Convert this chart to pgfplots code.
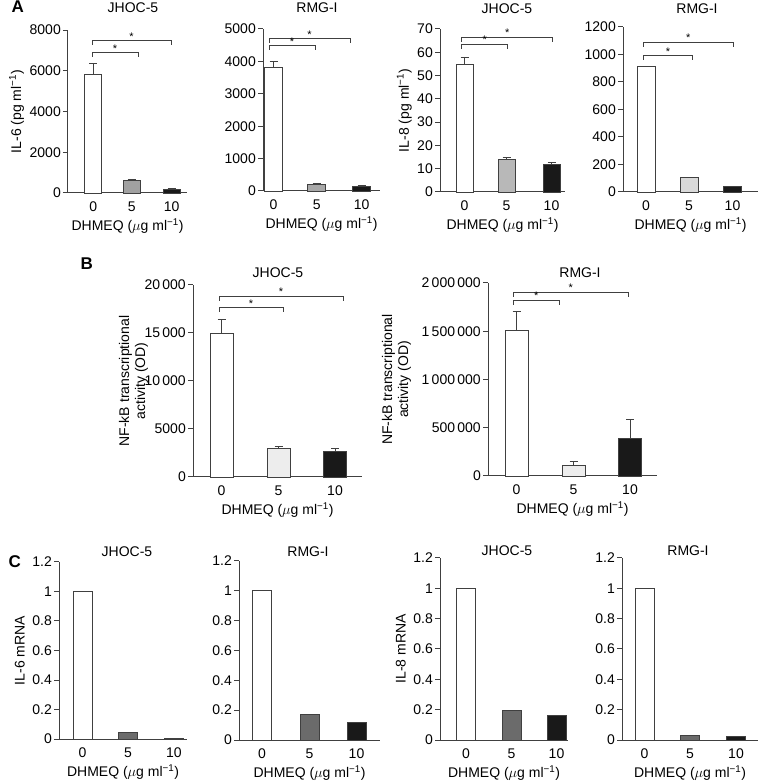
\documentclass[border=0pt]{standalone}
\usepackage{fontspec}
\setmainfont{Liberation Sans}
\usepackage{pgfplots}
\pgfplotsset{compat=1.18}
\newcommand{\fs}{\fontsize{14}{16}\selectfont}
\definecolor{axc}{gray}{0.25}
\definecolor{gAa}{gray}{0.63}
\definecolor{gAb}{gray}{0.66}
\definecolor{gAc}{gray}{0.72}
\definecolor{gAd}{gray}{0.85}
\definecolor{gB}{gray}{0.93}
\definecolor{gC}{gray}{0.42}
\definecolor{blk}{gray}{0.1}
\pgfplotsset{
 panel/.style={
  scale only axis, anchor=south west,
  axis lines*=left,
  axis line style={draw=axc, line width=1pt},
  tick align=outside, major tick length=5pt,
  xtick style={draw=none}, ytick style={draw=axc, line width=1pt},
  enlargelimits=false, clip=false, ymin=0,
  scaled y ticks=false, scaled x ticks=false,
  xticklabels={0,5,10},
  tick label style={font=\fs},
  yticklabel style={inner sep=2pt},
  label style={font=\fs},
  xlabel={DHMEQ ($\mu$g ml\textsuperscript{−1})},
 },
 mybar/.style={ybar, bar shift=0pt, draw=axc, line width=0.8pt, fill=#1,
  error bars/y dir=plus, error bars/y explicit,
  error bars/error mark=-,
  error bars/error bar style={axc, line width=0.8pt},
  error bars/error mark options={axc, line width=0.8pt, mark size=4pt, rotate=90}},
 brk/.style={axc, line width=0.8pt, mark=none},
}
\tikzset{star/.style={font=\fontsize{11}{11}\selectfont, anchor=base, inner sep=0pt}}
\begin{document}
\begin{tikzpicture}[x=1pt,y=1pt]
\path[use as bounding box] (0,0) rectangle (759,782);
% ---------------- A ----------------
\node[anchor=base west, font=\fontsize{17}{17}\selectfont\bfseries] at (8,769) {A};
\begin{axis}[panel, at={(68pt,589pt)}, width=119pt, height=163pt, xmin=68, xmax=187, ymax=8000,
  xtick={93.3,131.7,171.7}, ytick={0,2000,4000,6000,8000}, yticklabels={0,2000,4000,6000,8000},
  ylabel={IL-6 (pg ml\textsuperscript{−1})}]
\addplot[mybar=white, bar width=17] coordinates {(93.3,5800) +- (0,580)};
\addplot[mybar=gAa, bar width=17] coordinates {(131.7,610) +- (0,50)};
\addplot[mybar=blk, bar width=17] coordinates {(171.7,200) +- (0,30)};
\addplot[brk] coordinates {(92,6675) (92,6920) (138,6920) (138,6675)};
\addplot[brk] coordinates {(92,7264) (92,7509) (171,7509) (171,7264)};
\node[star] at (axis cs:115,6920) {*};
\node[star] at (axis cs:131.5,7509) {*};
\end{axis}
\node[anchor=base, font=\fs] at (133,769) {JHOC-5};
\begin{axis}[panel, at={(263pt,591pt)}, width=117pt, height=162pt, xmin=263, xmax=380, ymax=5000,
  xtick={273.5,316.7,361.7}, ytick={0,1000,2000,3000,4000,5000}, yticklabels={0,1000,2000,3000,4000,5000}]
\addplot[mybar=white, bar width=18] coordinates {(273.5,3800) +- (0,185)};
\addplot[mybar=gAb, bar width=18] coordinates {(316.7,216) +- (0,12)};
\addplot[mybar=blk, bar width=18] coordinates {(361.7,154) +- (0,8)};
\addplot[brk] coordinates {(269,4352) (269,4506) (315,4506) (315,4352)};
\addplot[brk] coordinates {(269,4568) (269,4722) (350,4722) (350,4568)};
\node[star] at (axis cs:292,4506) {*};
\node[star] at (axis cs:309.5,4722) {*};
\end{axis}
\node[anchor=base, font=\fs] at (317,769) {RMG-I};
\begin{axis}[panel, at={(440pt,590pt)}, width=125pt, height=163pt, xmin=440, xmax=565, ymax=70,
  xtick={464.5,506.5,551.5}, ytick={0,10,20,30,40,50,60,70}, yticklabels={0,10,20,30,40,50,60,70},
  ylabel={IL-8 (pg ml\textsuperscript{−1})}]
\addplot[mybar=white, bar width=17] coordinates {(464.5,55) +- (0,3)};
\addplot[mybar=gAc, bar width=17] coordinates {(506.5,14.2) +- (0,0.6)};
\addplot[mybar=blk, bar width=17] coordinates {(551.5,12) +- (0,0.5)};
\addplot[brk] coordinates {(461.7,61.45) (461.7,63.6) (507.7,63.6) (507.7,61.45)};
\addplot[brk] coordinates {(461.7,64.45) (461.7,66.6) (552.7,66.6) (552.7,64.45)};
\node[star] at (axis cs:484.7,63.6) {*};
\node[star] at (axis cs:507.2,66.6) {*};
\end{axis}
\node[anchor=base, font=\fs] at (507,768) {JHOC-5};
\begin{axis}[panel, at={(623pt,590pt)}, width=135pt, height=165pt, xmin=623, xmax=758, ymax=1200,
  xtick={646,689,732.5}, ytick={0,200,400,600,800,1000,1200}, yticklabels={0,200,400,600,800,1000,1200}]
\addplot[mybar=white, bar width=18] coordinates {(646,910)};
\addplot[mybar=gAd, bar width=18] coordinates {(689,108)};
\addplot[mybar=blk, bar width=18] coordinates {(732.5,42)};
\addplot[brk] coordinates {(643.3,960) (643.3,996) (692.7,996) (692.7,960)};
\addplot[brk] coordinates {(643.3,1055) (643.3,1091) (733.3,1091) (733.3,1055)};
\node[star] at (axis cs:668,996) {*};
\node[star] at (axis cs:688.3,1091) {*};
\end{axis}
\node[anchor=base, font=\fs] at (697,768) {RMG-I};
% ---------------- B ----------------
\node[anchor=base west, font=\fontsize{17}{17}\selectfont\bfseries] at (77,512) {B};
\begin{axis}[panel, at={(193pt,305pt)}, width=169pt, height=192pt, xmin=193, xmax=362, ymax=20000,
  xtick={221.5,278.5,335}, ytick={0,5000,10000,15000,20000}, yticklabels={0,5000,10\,000,15\,000,20\,000},
  ylabel={NF-kB transcriptional\\activity (OD)}, ylabel style={align=center}, ylabel shift=-9pt]
\addplot[mybar=white, bar width=23] coordinates {(221.5,15000) +- (0,1430)};
\addplot[mybar=gB, bar width=23] coordinates {(278.5,2990) +- (0,160)};
\addplot[mybar=blk, bar width=23] coordinates {(335,2640) +- (0,350)};
\addplot[brk] coordinates {(219,17188) (219,17708) (283.3,17708) (283.3,17188)};
\addplot[brk] coordinates {(219,18334) (219,18854) (343.3,18854) (343.3,18334)};
\node[star] at (axis cs:251,17708) {*};
\node[star] at (axis cs:281,18854) {*};
\end{axis}
\node[anchor=base, font=\fs] at (278,504) {JHOC-5};
\begin{axis}[panel, at={(488pt,306pt)}, width=169pt, height=193pt, xmin=488, xmax=657, ymax=2000000,
  xtick={516.5,573.5,630}, ytick={0,500000,1000000,1500000,2000000},
  yticklabels={0,500\,000,1\,000\,000,1\,500\,000,2\,000\,000},
  ylabel={NF-kB transcriptional\\activity (OD)}, ylabel style={align=center}, ylabel shift=5pt]
\addplot[mybar=white, bar width=23] coordinates {(516.5,1513000) +- (0,190000)};
\addplot[mybar=gB, bar width=23] coordinates {(573.5,114000) +- (0,34000)};
\addplot[mybar=blk, bar width=23] coordinates {(630,390000) +- (0,197000)};
\addplot[brk] coordinates {(513.3,1772000) (513.3,1824000) (559.3,1824000) (559.3,1772000)};
\addplot[brk] coordinates {(513.3,1855000) (513.3,1907000) (628.3,1907000) (628.3,1855000)};
\node[star] at (axis cs:536.3,1824000) {*};
\node[star] at (axis cs:570.8,1907000) {*};
\end{axis}
\node[anchor=base, font=\fs] at (580,504) {RMG-I};
% ---------------- C ----------------
\node[anchor=base west, font=\fontsize{17}{17}\selectfont\bfseries] at (5,214) {C};
\begin{axis}[panel, at={(59pt,43pt)}, width=128pt, height=177pt, xmin=59, xmax=187, ymax=1.2,
  xtick={82.5,128,174}, ytick={0,0.2,0.4,0.6,0.8,1,1.2}, yticklabels={0,0.2,0.4,0.6,0.8,1,1.2},
  ylabel={IL-6 mRNA}, ylabel shift=2pt]
\addplot[mybar=white, bar width=19] coordinates {(82.5,1)};
\addplot[mybar=gC, bar width=19] coordinates {(128,0.045)};
\addplot[mybar=blk, bar width=19] coordinates {(174,0.006)};
\end{axis}
\node[anchor=base, font=\fs] at (127,225) {JHOC-5};
\begin{axis}[panel, at={(239pt,42pt)}, width=141pt, height=179pt, xmin=239, xmax=380, ymax=1.2,
  xtick={262,309.5,356.5}, ytick={0,0.2,0.4,0.6,0.8,1,1.2}, yticklabels={0,0.2,0.4,0.6,0.8,1,1.2}]
\addplot[mybar=white, bar width=19] coordinates {(262,1)};
\addplot[mybar=gC, bar width=19] coordinates {(309.5,0.172)};
\addplot[mybar=blk, bar width=19] coordinates {(356.5,0.118)};
\end{axis}
\node[anchor=base, font=\fs] at (308,225) {RMG-I};
\begin{axis}[panel, at={(440pt,42pt)}, width=128pt, height=182pt, xmin=440, xmax=568, ymax=1.2,
  xtick={466,511.5,556.5}, ytick={0,0.2,0.4,0.6,0.8,1,1.2}, yticklabels={0,0.2,0.4,0.6,0.8,1,1.2},
  ylabel={IL-8 mRNA}, ylabel shift=2pt]
\addplot[mybar=white, bar width=19] coordinates {(466,1)};
\addplot[mybar=gC, bar width=19] coordinates {(511.5,0.193)};
\addplot[mybar=blk, bar width=19] coordinates {(556.5,0.165)};
\end{axis}
\node[anchor=base, font=\fs] at (507,226) {JHOC-5};
\begin{axis}[panel, at={(622pt,42pt)}, width=136pt, height=182pt, xmin=622, xmax=758, ymax=1.2,
  xtick={644.5,690,736}, ytick={0,0.2,0.4,0.6,0.8,1,1.2}, yticklabels={0,0.2,0.4,0.6,0.8,1,1.2}]
\addplot[mybar=white, bar width=19] coordinates {(644.5,1)};
\addplot[mybar=gC, bar width=19] coordinates {(690,0.033)};
\addplot[mybar=blk, bar width=19] coordinates {(736,0.022)};
\end{axis}
\node[anchor=base, font=\fs] at (688,226) {RMG-I};
\end{tikzpicture}
\end{document}
